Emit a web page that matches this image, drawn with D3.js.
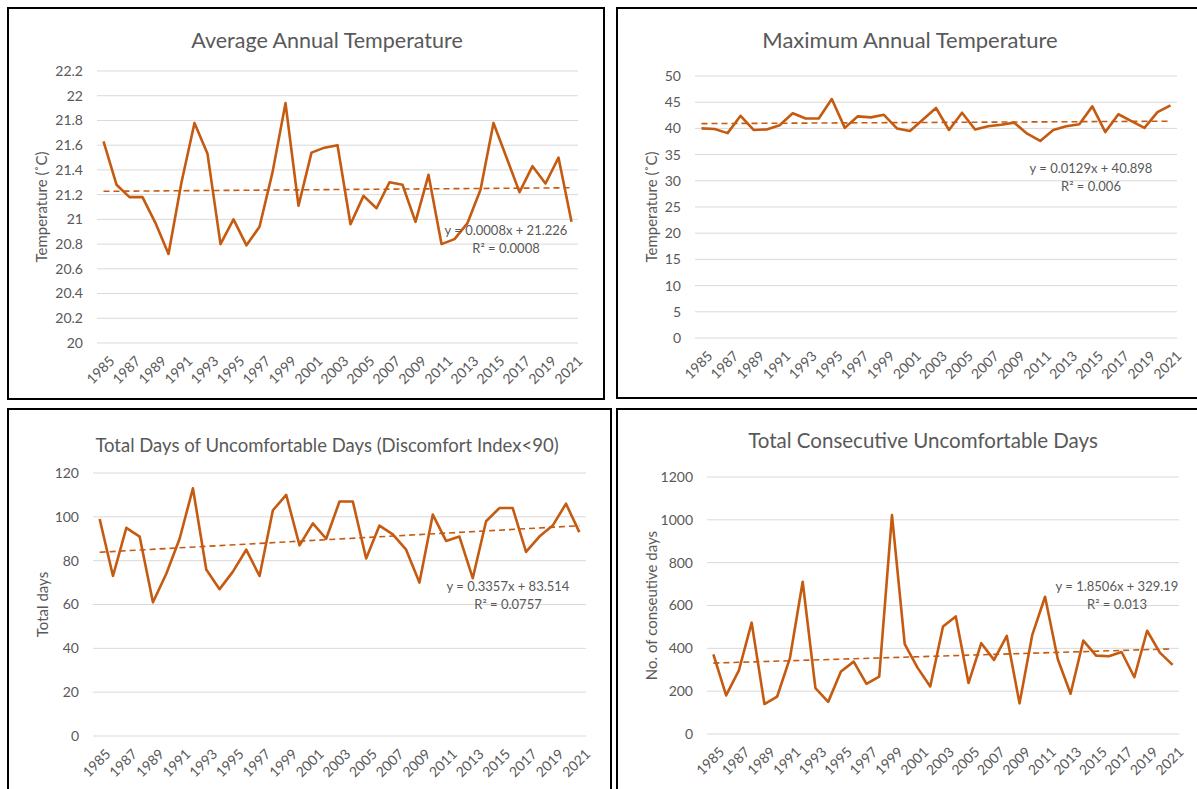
<!DOCTYPE html>
<html>
<head>
<meta charset="utf-8">
<script src="https://cdn.jsdelivr.net/npm/d3@7"></script>
<style>
  body { margin: 0; background: #fff; }
  svg text { font-family: Lato, "Open Sans", sans-serif; fill: #595959; }
</style>
</head>
<body>
<div id="chart-area"></div>
<script>
// years (categories)
var years = [1985, 1986, 1987, 1988, 1989, 1990, 1991, 1992, 1993, 1994, 1995, 1996, 1997,
  1998, 1999, 2000, 2001, 2002, 2003, 2004, 2005, 2006, 2007, 2008, 2009, 2010, 2011,
  2012, 2013, 2014, 2015, 2016, 2017, 2018, 2019, 2020, 2021];

// average annual temperature
var avgTemp = [21.63, 21.28, 21.18, 21.18, 20.97, 20.72, 21.3, 21.78, 21.53, 20.8, 21.0, 20.79,
  20.94, 21.38, 21.94, 21.11, 21.54, 21.58, 21.6, 20.96, 21.19, 21.09, 21.3, 21.28, 20.98,
  21.36, 20.8, 20.84, 20.97, 21.24, 21.78, 21.5, 21.22, 21.43, 21.29, 21.5, 20.98];

// maximum annual temperature
var maxTemp = [40.0, 39.9, 39.1, 42.4, 39.7, 39.8, 40.6, 42.9, 41.9, 41.9, 45.6, 40.1, 42.3,
  42.1, 42.6, 40.0, 39.5, 41.7, 43.9, 39.7, 43.0, 39.8, 40.4, 40.7, 41.1, 39.0, 37.6, 39.7,
  40.4, 40.8, 44.2, 39.3, 42.7, 41.4, 40.1, 43.1, 44.4];

// total uncomfortable days
var totalDays = [99, 73, 95, 91, 61, 74, 90, 113, 76, 67, 75, 85, 73, 103, 110, 87, 97, 90,
  107, 107, 81, 96, 92, 85, 70, 101, 89, 91, 72, 98, 104, 104, 84, 91, 96, 106, 93];

// consecutive uncomfortable days
var consecDays = [372, 180, 297, 520, 140, 175, 354, 711, 214, 150, 292, 338, 234, 268, 1022,
  420, 310, 222, 502, 549, 238, 424, 346, 458, 143, 463, 641, 349, 188, 436, 366, 363, 383,
  265, 482, 380, 323];

// y tick labels
var ticksAvg = [20, 20.2, 20.4, 20.6, 20.8, 21, 21.2, 21.4, 21.6, 21.8, 22, 22.2];
var ticksMax = [0, 5, 10, 15, 20, 25, 30, 35, 40, 45, 50];
var ticksTotal = [0, 20, 40, 60, 80, 100, 120];
var ticksConsec = [0, 200, 400, 600, 800, 1000, 1200];

// trend lines (slope, intercept)
var trendAvg = [0.0008, 21.226];
var trendMax = [0.0129, 40.898];
var trendTotal = [0.3357, 83.514];
var trendConsec = [1.8506, 329.19];

var lineColor = "#C55A11";

var svg = d3.select("#chart-area").append("svg")
  .attr("width", 1197)
  .attr("height", 789);

// panel borders
var boxes = [
  { x: 8, y: 8, w: 596, h: 391 },
  { x: 617, y: 8, w: 590, h: 390 },
  { x: 8, y: 409, w: 603, h: 390 },
  { x: 617, y: 409, w: 590, h: 390 }
];
svg.selectAll("rect.box").data(boxes).enter().append("rect")
  .attr("class", "box")
  .attr("x", d => d.x).attr("y", d => d.y)
  .attr("width", d => d.w).attr("height", d => d.h)
  .attr("fill", "none").attr("stroke", "#000").attr("stroke-width", 2);

function panel(cfg) {
  var g = svg.append("g");
  var x = d3.scaleBand().domain(years).range([cfg.left, cfg.right]);
  var y = d3.scaleLinear().domain([cfg.ticks[0], cfg.ticks[cfg.ticks.length - 1]])
    .range([cfg.bottom, cfg.top]);
  var cx = d => x(d) + x.bandwidth() / 2;

  // gridlines
  g.selectAll("line.grid").data(cfg.ticks).enter().append("line")
    .attr("x1", cfg.left).attr("x2", cfg.right)
    .attr("y1", d => y(d)).attr("y2", d => y(d))
    .attr("stroke", "#D9D9D9").attr("stroke-width", 1);

  // y labels
  g.selectAll("text.ytick").data(cfg.ticks).enter().append("text")
    .attr("x", cfg.left - 14).attr("y", d => y(d))
    .attr("dy", "0.35em")
    .attr("text-anchor", "end")
    .style("font-size", "14px")
    .text(d => String(d));

  // x labels (every other year)
  g.selectAll("text.xtick").data(years.filter((d, i) => i % 2 === 0)).enter().append("text")
    .attr("transform", d => "translate(" + (cx(d) + 5) + "," + (cfg.bottom + 12) + ") rotate(-45)")
    .attr("text-anchor", "end")
    .attr("dy", "0.7em")
    .style("font-size", "14px")
    .text(d => d);

  // trend line
  var n = years.length;
  g.append("line")
    .attr("x1", cx(years[0])).attr("y1", y(cfg.trend[0] * 1 + cfg.trend[1]))
    .attr("x2", cx(years[n - 1])).attr("y2", y(cfg.trend[0] * n + cfg.trend[1]))
    .attr("stroke", lineColor).attr("stroke-width", 1.6)
    .attr("stroke-dasharray", "6,4");

  // series
  var line = d3.line().x((d, i) => cx(years[i])).y(d => y(d));
  g.append("path").datum(cfg.values)
    .attr("d", line)
    .attr("fill", "none").attr("stroke", lineColor)
    .attr("stroke-width", 2.6).attr("stroke-linejoin", "round");

  // title
  g.append("text")
    .attr("x", cfg.titleX).attr("y", cfg.titleY)
    .attr("text-anchor", "middle")
    .style("font-size", cfg.titleSize + "px")
    .text(cfg.title);

  // y title
  g.append("text")
    .attr("transform", "translate(" + cfg.yTitleX + "," + ((cfg.top + cfg.bottom) / 2) + ") rotate(-90)")
    .attr("text-anchor", "middle")
    .attr("dy", "0.35em")
    .style("font-size", "15px")
    .text(cfg.yTitle);

  // trend equation
  g.append("text")
    .attr("x", cfg.eqX).attr("y", cfg.eqY)
    .attr("text-anchor", "middle")
    .style("font-size", "13px")
    .text("y = " + cfg.trend[0] + "x + " + cfg.trend[1]);
  g.append("text")
    .attr("x", cfg.eqX).attr("y", cfg.eqY + 18)
    .attr("text-anchor", "middle")
    .style("font-size", "13px")
    .text("R² = " + cfg.r2);
}

panel({
  values: avgTemp, ticks: ticksAvg, trend: trendAvg, r2: "0.0008",
  left: 97, right: 578, top: 71, bottom: 343,
  title: "Average Annual Temperature", titleX: 327, titleY: 48, titleSize: 21.5,
  yTitle: "Temperature (˚C)", yTitleX: 42, eqX: 506, eqY: 235
});
panel({
  values: maxTemp, ticks: ticksMax, trend: trendMax, r2: "0.006",
  left: 695, right: 1177, top: 76, bottom: 338,
  title: "Maximum Annual Temperature", titleX: 910, titleY: 48, titleSize: 22,
  yTitle: "Temperature (˚C)", yTitleX: 652, eqX: 1091, eqY: 173
});
panel({
  values: totalDays, ticks: ticksTotal, trend: trendTotal, r2: "0.0757",
  left: 93, right: 586, top: 473, bottom: 736,
  title: "Total Days of Uncomfortable Days (Discomfort Index<90)", titleX: 327, titleY: 452, titleSize: 18.5,
  yTitle: "Total days", yTitleX: 43, eqX: 508, eqY: 591
});
panel({
  values: consecDays, ticks: ticksConsec, trend: trendConsec, r2: "0.013",
  left: 707, right: 1179, top: 477, bottom: 734,
  title: "Total Consecutive Uncomfortable Days", titleX: 923, titleY: 448, titleSize: 20.5,
  yTitle: "No. of conseutive days", yTitleX: 652, eqX: 1117, eqY: 591
});
</script>
</body>
</html>
